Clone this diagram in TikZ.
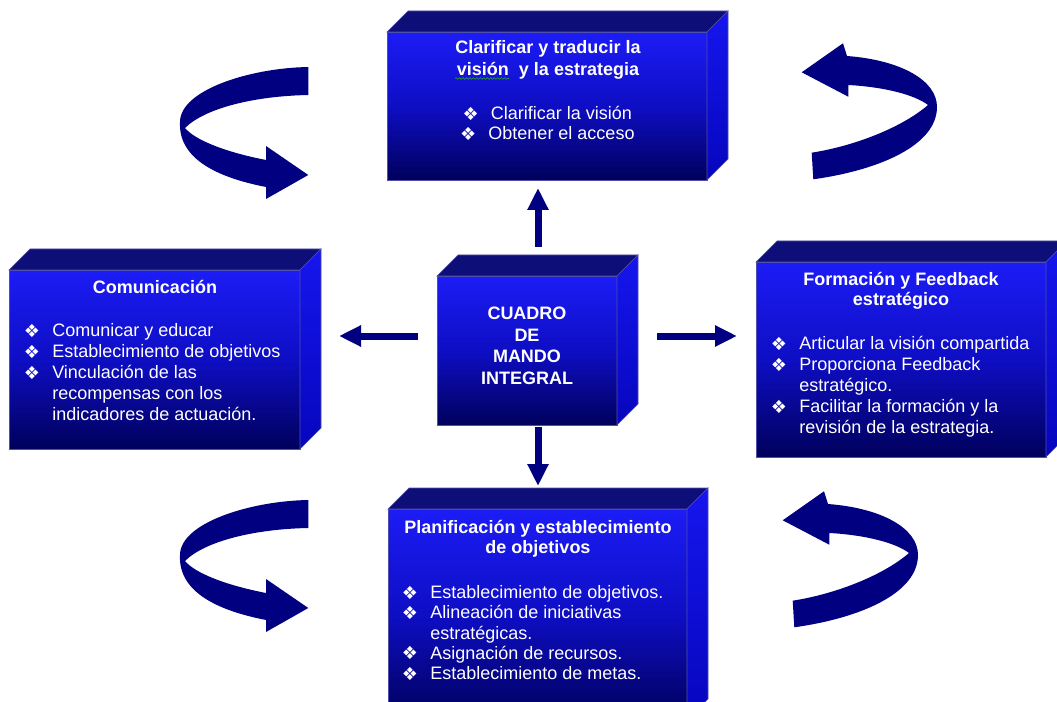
\documentclass[tikz,border=0pt]{standalone}
\usepackage{fontspec}
\setmainfont{Liberation Sans}
\newfontfamily\dejavu{DejaVu Sans}
\usetikzlibrary{arrows.meta,calc,decorations.pathmorphing}

\definecolor{faceTop}{RGB}{28,28,246}
\definecolor{faceMid}{RGB}{14,14,196}
\definecolor{faceBot}{RGB}{0,0,92}
\definecolor{lidCol}{RGB}{14,14,120}
\definecolor{sideTop}{RGB}{22,22,238}
\definecolor{sideBot}{RGB}{6,6,190}
\definecolor{edgeCol}{RGB}{80,80,170}
\definecolor{navy}{RGB}{0,0,128}
\definecolor{squiggle}{RGB}{40,150,40}

% bullet and hanging indent for the item lists
\newcommand\bul{\makebox[20.25pt][l]{\hspace*{-1pt}\raisebox{-0.4pt}{\dejavu\fontsize{13.5}{13.5}\selectfont\char"2756}}}
\newcommand\ind{\hspace*{20.25pt}}

\begin{document}
\begin{tikzpicture}[x=0.75pt,y=0.75pt,
  front/.style={draw=edgeCol, line width=0.6pt, top color=faceTop, bottom color=faceBot, middle color=faceMid, inner sep=0pt, outer sep=0pt},
  lid/.style={fill=lidCol, draw=edgeCol, line width=0.4pt},
  side/.style={top color=sideTop, bottom color=sideBot, draw=edgeCol, line width=0.4pt},
  head/.style={text=white, inner sep=0pt, align=center, font=\bfseries\fontsize{13.5}{15}\selectfont},
  items/.style={text=white, inner sep=0pt, align=left, font=\fontsize{13.5}{15.75}\selectfont},
  flow/.style={draw=navy, line width=5.25pt, -{Triangle[width=15pt,length=16.5pt]}},
  turn/.style={fill=navy}
]
\clip (0,0) rectangle (1057,701);
\fill[white] (0,0) rectangle (1057,701);

% a solid block: front face node plus top and right faces
\newcommand\block[4]{%
  \node[front, minimum width=#3*0.75pt, minimum height=#4*0.75pt] (#1) at (#2) {};
  \path[lid] (#1.north west) -- ++(21,21) -- ([shift={(21,21)}]#1.north east) -- (#1.north east) -- cycle;
  \path[side] (#1.north east) -- ++(21,21) -- ([shift={(21,21)}]#1.south east) -- (#1.south east) -- cycle;
}

\block{clar}{547,595}{320}{148}
\block{com}{154.5,341.5}{291}{179}
\block{cmi}{527,350.5}{180}{149}
\block{frm}{901,341.5}{290}{195}
\block{pla}{537.5,86.5}{299}{211}

% texts (multi-line nodes are placed by the baseline of their last line)
\node[head, anchor=base, font=\bfseries\fontsize{13.5}{16.5}\selectfont] (clarh) at (548,625.5) {Clarificar y traducir la\\visión \ y la estrategia};
\draw[squiggle, line width=0.5pt, decorate, decoration={snake, amplitude=0.6pt, segment length=2.6pt}] (455,622.5) -- (509,622.5);
\node[items, anchor=base, align=center, font=\fontsize{13.5}{15}\selectfont] (clari) at (548,561.5)
  {\bul Clarificar la visión\\\bul Obtener el acceso};

\node[head, anchor=base] (comh) at (155,407.5) {Comunicación};
\node[items, anchor=base west] (comi) at (25,280.5)
  {\bul Comunicar y educar\\\bul Establecimiento de objetivos\\\bul Vinculación de las\\\ind recompensas con los\\\ind indicadores de actuación.};

\node[head, anchor=base, font=\bfseries\fontsize{13.5}{16.25}\selectfont] (cmit) at (527,316.5) {CUADRO\\DE\\MANDO\\INTEGRAL};

\node[head, anchor=base] (frmh) at (901,395.5) {Formación y Feedback\\estratégico};
\node[items, anchor=base west] (frmi) at (772,267.5)
  {\bul Articular la visión compartida\\\bul Proporciona Feedback\\\ind estratégico.\\\bul Facilitar la formación y la\\\ind revisión de la estrategia.};

\node[head, anchor=base] (plah) at (538,147.5) {Planificación y establecimiento\\de objetivos};
\node[items, anchor=base west, font=\fontsize{13.5}{15.2}\selectfont] (plai) at (403,21.4)
  {\bul Establecimiento de objetivos.\\\bul Alineación de iniciativas\\\ind estratégicas.\\\bul Asignación de recursos.\\\bul Establecimiento de metas.};

% straight arrows from the centre block
\draw[flow] ($(cmi.north)+(11,29)$) -- ($(clar.south)+(-9,-8)$);
\draw[flow] ($(cmi.west)+(-19,14.5)$) -- ($(com.east)+(39,23.5)$);
\draw[flow] ($(cmi.east)+(40,14.5)$) -- ($(frm.west)+(-19,23.5)$);
\draw[flow] ($(cmi.south)+(11,-2)$) -- ($(pla.north)+(0.5,23)$);

% curled ribbon arrows, left side
\newcommand\curlleft{%
  (308.3,634) .. controls (250,633) and (180,611) .. (180,579)
  .. controls (178,541) and (220,523) .. (266,514)
  -- (266,502) -- (308.3,526) -- (266,555) -- (266,541)
  .. controls (225,549) and (195,561) .. (185,573)
  .. controls (205,593) and (255,605) .. (308.3,606) -- cycle}
\fill[turn] \curlleft;
\fill[turn, shift={(0,-433)}] \curlleft;

% curled ribbon arrows, right side
\newcommand\curlright{%
  (813.3,521.7) .. controls (880,531) and (937,556) .. (937,594)
  .. controls (937,621) and (900,641) .. (847,645)
  -- (843,657.7) -- (801.7,628.7) -- (848.3,604.3) -- (848.3,616)
  .. controls (885,614) and (915,606) .. (928,596)
  .. controls (905,576) and (860,556) .. (811.7,548.3) -- cycle}
\fill[turn] \curlright;
\fill[turn, shift={(-19,-448)}] \curlright;
\end{tikzpicture}
\end{document}
